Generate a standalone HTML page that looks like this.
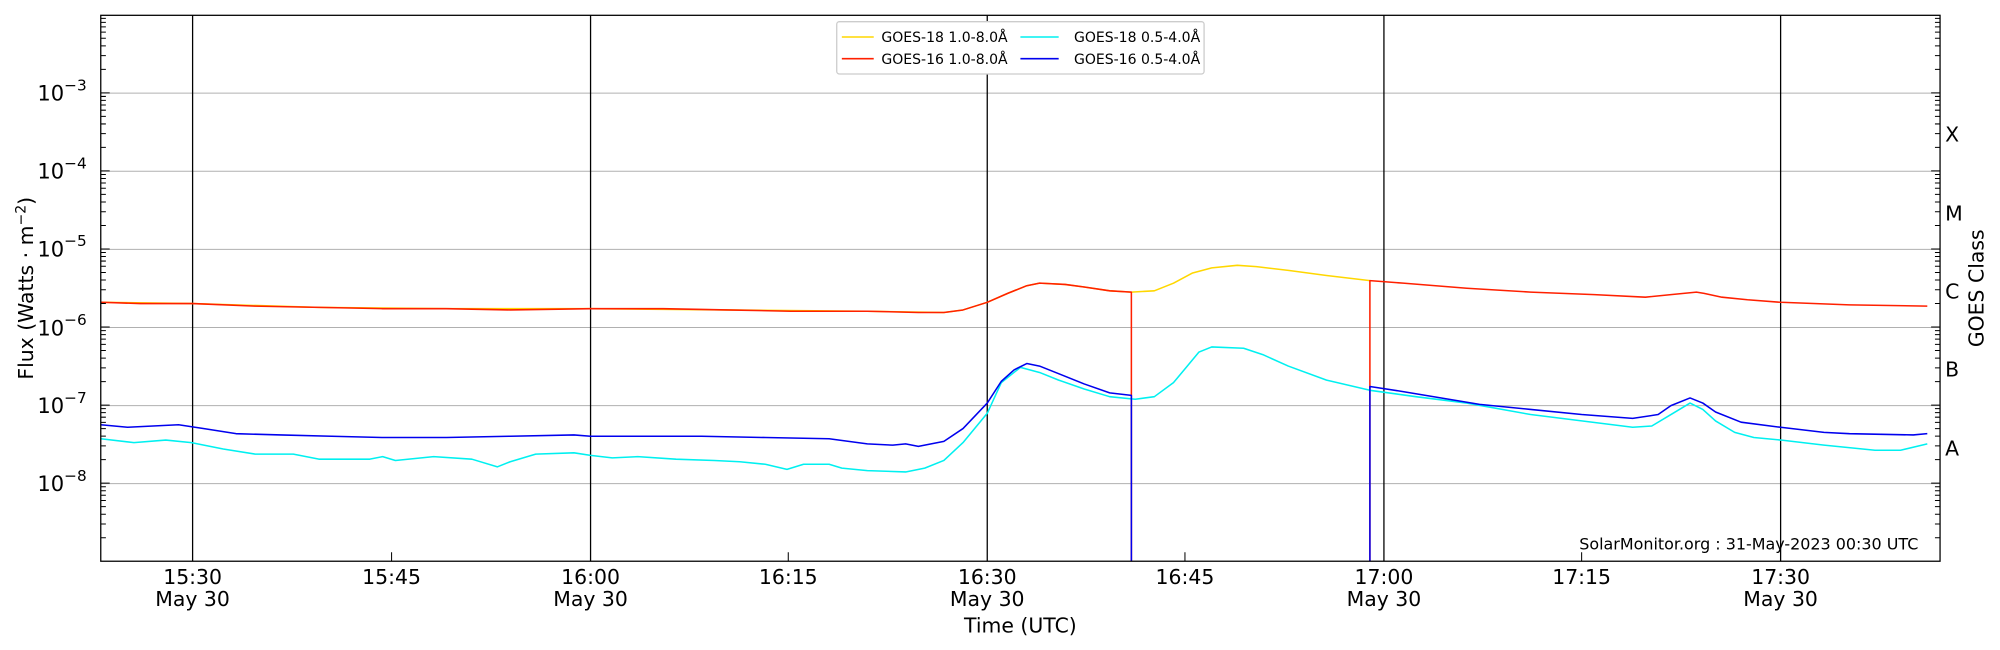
<!DOCTYPE html>
<html><head><meta charset="utf-8"><style>html,body{margin:0;padding:0;background:#fff}svg{display:block}text{font-family:"DejaVu Sans","Liberation Sans",sans-serif;fill:#000}</style></head><body>
<svg width="2000" height="650" viewBox="0 0 1568 509.6" xmlns="http://www.w3.org/2000/svg">
<g stroke="#b0b0b0" stroke-width="0.8">
<line x1="79" x2="1521" y1="73" y2="73"/><line x1="79" x2="1521" y1="134.3" y2="134.3"/><line x1="79" x2="1521" y1="195.5" y2="195.5"/><line x1="79" x2="1521" y1="256.8" y2="256.8"/><line x1="79" x2="1521" y1="318" y2="318"/><line x1="79" x2="1521" y1="379.2" y2="379.2"/>
</g>
<g stroke="#000" stroke-width="1">
<line x1="151" x2="151" y1="12" y2="440"/><line x1="463" x2="463" y1="12" y2="440"/><line x1="774" x2="774" y1="12" y2="440"/><line x1="1085" x2="1085" y1="12" y2="440"/><line x1="1396" x2="1396" y1="12" y2="440"/>
</g>
<g fill="none" stroke-width="1.2" stroke-linejoin="round">
<polyline stroke="#ffd700" points="79,237 151,238 250,241 350,242 463,242 570,243 680,244 740,245 755,243 774,237 790,230 805,224 815,222 835,223 850,225 870,228 887,229 905,228 920,222 935,214 950,210 970,208 985,209 1010,212 1040,216 1074,220"/>
<polyline stroke="#ff2000" points="79,237 110,238 151,238 200,240 250,241 300,242 350,242 400,243 463,242 520,242 570,243 620,244 680,244 720,245 740,245 755,243 774,237 790,230 805,224 815,222 835,223 850,225 870,228 887,229 887,440"/>
<polyline stroke="#ff2000" points="1074,440 1074,220 1100,222 1150,226 1200,229 1250,231 1290,233 1310,231 1330,229 1336,230 1350,233 1370,235 1396,237 1450,239 1511,240"/>
<polyline stroke="#00f0f0" points="79,344 105,347 130,345 150,347 175,352 200,356 230,356 250,360 270,360 290,360 300,358 310,361 340,358 370,360 390,366 400,362 420,356 450,355 463,357 480,359 500,358 530,360 560,361 580,362 600,364 617,368 630,364 650,364 660,367 680,369 710,370 725,367 740,361 755,347 774,324 785,300 800,288 815,292 830,298 850,305 870,311 890,313 905,311 920,300 930,288 940,276 950,272 975,273 990,278 1010,287 1040,298 1074,306 1110,311 1150,316 1200,325 1240,330 1280,335 1295,334 1310,325 1325,316 1335,321 1345,330 1360,339 1375,343 1396,345 1430,349 1470,353 1490,353 1511,348"/>
<polyline stroke="#0000ee" points="79,333 100,335 140,333 160,336 185,340 220,341 260,342 300,343 350,343 400,342 450,341 463,342 500,342 550,342 600,343 650,344 680,348 700,349 710,348 720,350 740,346 755,336 774,316 785,299 795,290 805,285 815,287 830,293 850,301 870,308 887,310 887,440"/>
<polyline stroke="#0000ee" points="1074,440 1074,303 1100,307 1130,312 1160,317 1200,321 1240,325 1280,328 1300,325 1310,318 1325,312 1335,316 1345,323 1365,331 1396,335 1430,339 1450,340 1500,341 1511,340"/>
</g>
<rect x="79" y="12" width="1442" height="428" fill="none" stroke="#000" stroke-width="1"/>
<g stroke="#000" stroke-width="0.8">
<path id="tk" d="M79 421.58h4M79 410.8h4M79 403.16h4M79 397.22h4M79 392.38h4M79 388.28h4M79 384.73h4M79 381.6h4
M79 378.8h7M79 360.38h4M79 349.6h4M79 341.96h4M79 336.02h4M79 331.18h4M79 327.08h4M79 323.53h4M79 320.4h4
M79 317.6h7M79 299.18h4M79 288.4h4M79 280.76h4M79 274.82h4M79 269.98h4M79 265.88h4M79 262.33h4M79 259.2h4
M79 256.4h7M79 237.98h4M79 227.2h4M79 219.56h4M79 213.62h4M79 208.78h4M79 204.68h4M79 201.13h4M79 198h4
M79 195.2h7M79 176.78h4M79 166h4M79 158.36h4M79 152.42h4M79 147.58h4M79 143.48h4M79 139.93h4M79 136.8h4
M79 134h7M79 115.58h4M79 104.8h4M79 97.16h4M79 91.22h4M79 86.38h4M79 82.28h4M79 78.73h4M79 75.6h4
M79 72.8h7M79 54.38h4M79 43.6h4M79 35.96h4M79 30.02h4M79 25.18h4M79 21.08h4M79 17.53h4M79 14.4h4"/>
<use href="#tk" transform="translate(1600,0) scale(-1,1)"/>
<path d="M307 440v-7M618 440v-7M929 440v-7M1240 440v-7"/>
</g>
<g font-size="16.5" text-anchor="end">
<text x="68" y="79">10<tspan dy="-8" font-size="12">−3</tspan></text>
<text x="68" y="140">10<tspan dy="-8" font-size="12">−4</tspan></text>
<text x="68" y="201">10<tspan dy="-8" font-size="12">−5</tspan></text>
<text x="68" y="263">10<tspan dy="-8" font-size="12">−6</tspan></text>
<text x="68" y="324">10<tspan dy="-8" font-size="12">−7</tspan></text>
<text x="68" y="385">10<tspan dy="-8" font-size="12">−8</tspan></text>
</g>
<g font-size="16" text-anchor="middle">
<text x="151" y="458">15:30</text><text x="151" y="475">May 30</text>
<text x="307" y="458">15:45</text>
<text x="463" y="458">16:00</text><text x="463" y="475">May 30</text>
<text x="618" y="458">16:15</text>
<text x="774" y="458">16:30</text><text x="774" y="475">May 30</text>
<text x="929" y="458">16:45</text>
<text x="1085" y="458">17:00</text><text x="1085" y="475">May 30</text>
<text x="1240" y="458">17:15</text>
<text x="1396" y="458">17:30</text><text x="1396" y="475">May 30</text>
<text x="800" y="496">Time (UTC)</text>
</g>
<text font-size="16" transform="translate(26,226) rotate(-90)" text-anchor="middle">Flux (Watts · m<tspan dy="-6" font-size="11">−2</tspan><tspan dy="6">)</tspan></text>
<text font-size="16" transform="translate(1555,226) rotate(-90)" text-anchor="middle">GOES Class</text>
<g font-size="16">
<text x="1525" y="111">X</text><text x="1525" y="173">M</text><text x="1525" y="234">C</text><text x="1525" y="295">B</text><text x="1525" y="357">A</text>
</g>
<text x="1504" y="431" font-size="12.5" text-anchor="end">SolarMonitor.org : 31-May-2023 00:30 UTC</text>
<rect x="656" y="17" width="288" height="41" fill="#fff" stroke="#ccc" rx="2"/>
<g stroke-width="1.2"><line x1="660" x2="685" y1="29" y2="29" stroke="#ffd700"/><line x1="660" x2="685" y1="46" y2="46" stroke="#ff2000"/><line x1="800" x2="830" y1="29" y2="29" stroke="#00f0f0"/><line x1="800" x2="830" y1="46" y2="46" stroke="#0000ee"/></g>
<g font-size="11"><text x="691" y="33">GOES-18 1.0-8.0Å</text><text x="691" y="50">GOES-16 1.0-8.0Å</text><text x="842" y="33">GOES-18 0.5-4.0Å</text><text x="842" y="50">GOES-16 0.5-4.0Å</text></g>
</svg>
</body></html>
